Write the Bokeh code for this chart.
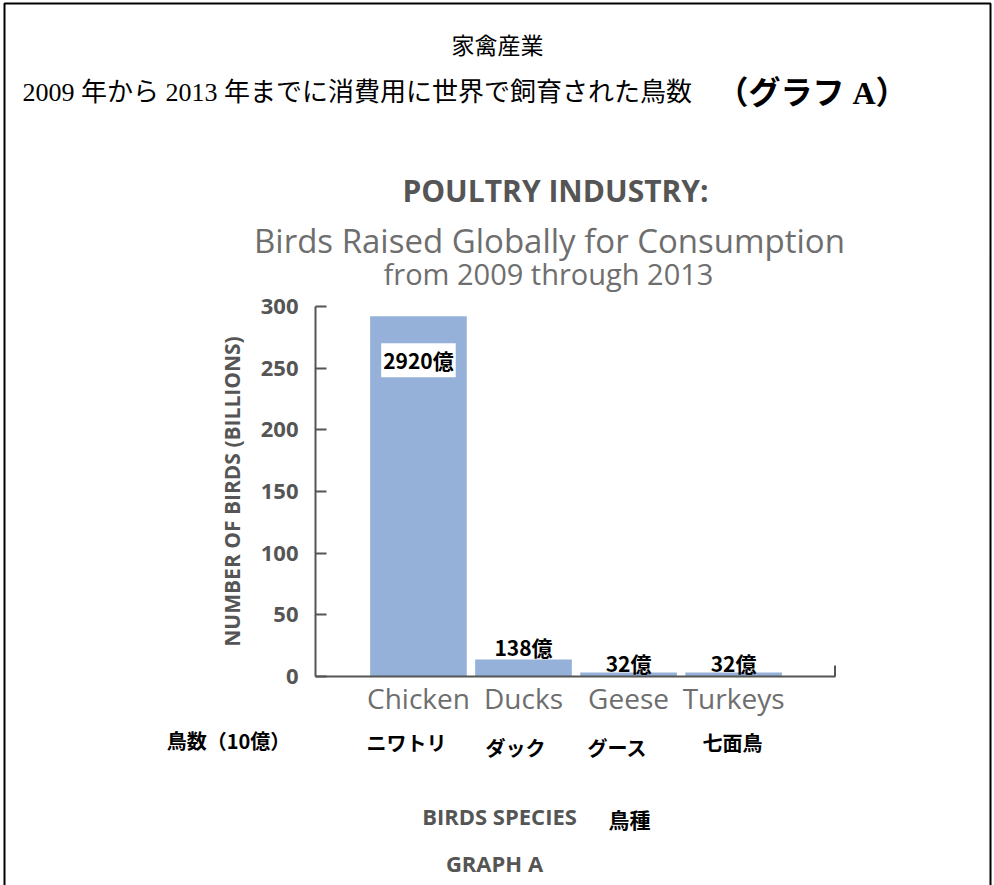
from bokeh.plotting import figure
from bokeh.models import Range1d, FixedTicker, Label, LinearAxis
from bokeh.embed import file_html
from bokeh.resources import INLINE

# ---- data ----
species_en = ["Chicken", "Ducks", "Geese", "Turkeys"]
species_ja = ["ニワトリ", "ダック", "グース", "七面鳥"]
birds_billion = [292.0, 13.8, 3.2, 3.2]
value_labels = ["2920億", "138億", "32億", "32億"]
y_ticks = [0, 50, 100, 150, 200, 250, 300]

# ---- layout (pixels) ----
W, H = 994, 885
FL, FR, FT, FB = 315, 835, 306, 676   # where the chart axes sit on the page
XA, XB = -0.98, 3.97                  # x extent of the chart axis (data)
Y0, Y1 = 0, 300                       # y extent of the chart axis (data)
kx = (FR - FL) / (XB - XA)
ky = (FB - FT) / (Y1 - Y0)


def dx(px):
    return XA + (px - FL) / kx


def dy(py):
    return Y0 + (FB - py) / ky


GRAY = "#555555"
LIGHTGRAY = "#6e6e6e"
JP = "Noto Sans CJK JP"
SERIF_JP = "Liberation Serif, Noto Sans CJK JP"
EN = "Open Sans"

p = figure(width=W, height=H,
           x_range=Range1d(dx(0), dx(W)), y_range=Range1d(dy(H), dy(0)),
           output_backend="svg", toolbar_location=None,
           x_axis_type=None, y_axis_type=None,
           min_border=0, min_border_left=0, min_border_right=0,
           min_border_top=0, min_border_bottom=0)
p.outline_line_color = None
p.grid.visible = False
p.background_fill_color = "white"
p.border_fill_color = "white"

xs = list(range(len(species_en)))
p.vbar(x=xs, top=birds_billion, bottom=0, width=0.92, fill_color="#95B0D9", line_color=None)

# x axis, pinned at y = 0
xa = LinearAxis(ticker=FixedTicker(ticks=xs), fixed_location=0, bounds=(XA, XB))
xa.major_label_overrides = {i: s for i, s in zip(xs, species_en)}
xa.major_tick_line_color = None
xa.minor_tick_line_color = None
xa.axis_line_color = GRAY
xa.axis_line_width = 2
xa.major_label_text_font = EN
xa.major_label_text_font_size = "28px"
xa.major_label_text_color = LIGHTGRAY
xa.major_label_standoff = -4
p.add_layout(xa, "below")

# small end tick on the x axis
p.segment(x0=[XB - 0.005], y0=[0], x1=[XB - 0.005], y1=[11 / ky], line_color=GRAY, line_width=2)

# y axis, pinned at the left end of the x axis
ya = LinearAxis(ticker=FixedTicker(ticks=y_ticks), fixed_location=XA, bounds=(Y0, Y1))
ya.major_tick_in = 11
ya.major_tick_out = 0
ya.major_tick_line_width = 2
ya.major_tick_line_color = GRAY
ya.minor_tick_line_color = None
ya.axis_line_color = GRAY
ya.axis_line_width = 2
ya.major_label_text_font = EN
ya.major_label_text_font_style = "bold"
ya.major_label_text_font_size = "22px"
ya.major_label_text_color = GRAY
ya.major_label_standoff = 17
ya.axis_label = "NUMBER OF BIRDS (BILLIONS)"
ya.axis_label_text_font = EN
ya.axis_label_text_font_style = "bold"
ya.axis_label_text_font_size = "21px"
ya.axis_label_text_color = GRAY
ya.axis_label_standoff = 12
p.add_layout(ya, "left")

offsets = [-44, 12, 10, 10]
for i, (v, t, o) in enumerate(zip(birds_billion, value_labels, offsets)):
    lab = Label(x=i, y=v, y_offset=o, text=t, text_align="center", text_baseline="middle",
                text_font=JP, text_font_style="bold", text_font_size="21px", text_color="black")
    if i == 0:
        lab.background_fill_color = "white"
        lab.padding = 2
    p.add_layout(lab)


def txt(cx, cy, text, size, color="black", style="normal", font=JP, align="center"):
    p.add_layout(Label(x=dx(cx), y=dy(cy), text=text, text_align=align, text_baseline="middle",
                       text_font=font, text_font_style=style, text_font_size=size,
                       text_color=color))


# page border
p.multi_line(xs=[[dx(4), dx(4), dx(990), dx(990)]], ys=[[dy(H + 10), dy(3), dy(3), dy(H + 10)]],
             line_color="black", line_width=2)

# titles
txt(497, 46, "家禽産業", "23px", font=SERIF_JP)
txt(22, 92, "2009 年から 2013 年までに消費用に世界で飼育された鳥数", "26px", font=SERIF_JP, align="left")
txt(716, 92, "（グラフ A）", "32px", style="bold", font=SERIF_JP, align="left")
txt(555, 190, "POULTRY INDUSTRY:", "30px", color=GRAY, style="bold", font=EN)
txt(549, 240, "Birds Raised Globally for Consumption", "33px", color=LIGHTGRAY, font=EN)
txt(548, 273, "from 2009 through 2013", "29px", color=LIGHTGRAY, font=EN)

# Japanese category row
txt(228, 740, "鳥数（10億）", "20px", style="bold")
ja_pos = [(406, 742), (515, 747), (617, 747), (732, 742)]
for (cx, cy), t in zip(ja_pos, species_ja):
    txt(cx, cy, t, "20px", style="bold")

# bottom titles
txt(499, 815, "BIRDS SPECIES", "22px", color=GRAY, style="bold", font=EN)
txt(629, 818, "鳥種", "21px", style="bold")
txt(494, 862, "GRAPH A", "22px", color=GRAY, style="bold", font=EN)

open("out.html", "w").write(file_html(p, INLINE))
